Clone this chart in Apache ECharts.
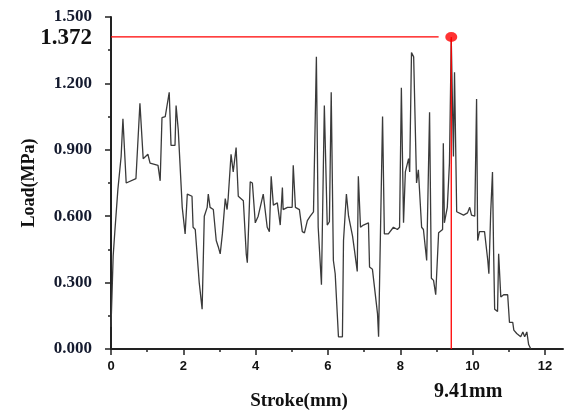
<!DOCTYPE html>
<html>
<head>
<meta charset="utf-8">
<script src="https://cdn.jsdelivr.net/npm/echarts@6/dist/echarts.min.js"></script>
<style>
    html, body { margin: 0; padding: 0; background: #fff; }
    #chart { width: 568px; height: 414px; }
</style>
</head>
<body>
<div id="chart"></div>
<script>
    // 行程 (mm)
    var strokeX = [0.00, 0.06, 0.11, 0.19, 0.28, 0.33, 0.42, 0.69, 0.80, 0.89, 1.02, 1.08, 1.30, 1.36, 1.41, 1.50,
        1.61, 1.66, 1.77, 1.80, 1.86, 1.97, 2.05, 2.11, 2.24, 2.27, 2.33, 2.44, 2.49, 2.52, 2.58, 2.66,
        2.69, 2.74, 2.83, 2.91, 2.97, 3.02, 3.08, 3.16, 3.21, 3.24, 3.32, 3.38, 3.46, 3.52, 3.66, 3.74,
        3.77, 3.85, 3.91, 3.99, 4.07, 4.21, 4.32, 4.38, 4.43, 4.49, 4.60, 4.68, 4.74, 4.76, 4.88, 5.01,
        5.04, 5.10, 5.21, 5.29, 5.35, 5.43, 5.51, 5.60, 5.68, 5.73, 5.82, 5.90, 5.98, 6.04, 6.09, 6.15,
        6.20, 6.29, 6.40, 6.43, 6.51, 6.57, 6.68, 6.73, 6.81, 6.84, 6.90, 6.98, 7.12, 7.15, 7.23, 7.37,
        7.40, 7.51, 7.56, 7.67, 7.81, 7.92, 7.98, 8.03, 8.09, 8.14, 8.23, 8.26, 8.31, 8.37, 8.45, 8.50,
        8.59, 8.64, 8.73, 8.81, 8.86, 8.92, 8.98, 9.06, 9.17, 9.19, 9.22, 9.30, 9.36, 9.41, 9.47, 9.50,
        9.56, 9.61, 9.75, 9.86, 9.92, 9.97, 10.06, 10.11, 10.14, 10.19, 10.33, 10.42, 10.45, 10.50, 10.55, 10.58,
        10.61, 10.69, 10.72, 10.78, 10.86, 10.97, 11.02, 11.11, 11.14, 11.22, 11.27, 11.33, 11.39, 11.44, 11.50, 11.55,
        11.61];
    // 载荷 (MPa)
    var loadY = [0.10, 0.42, 0.54, 0.72, 0.87, 1.04, 0.75, 0.77, 1.11, 0.86, 0.88, 0.84, 0.83, 0.76, 1.045, 1.05,
        1.16, 0.92, 0.92, 1.10, 0.99, 0.64, 0.52, 0.70, 0.69, 0.55, 0.54, 0.30, 0.30, 0.18, 0.60, 0.64,
        0.70, 0.64, 0.63, 0.49, 0.46, 0.43, 0.52, 0.68, 0.63, 0.68, 0.88, 0.80, 0.91, 0.69, 0.67, 0.43,
        0.39, 0.755, 0.75, 0.57, 0.60, 0.70, 0.55, 0.53, 0.78, 0.65, 0.66, 0.56, 0.73, 0.63, 0.64, 0.64,
        0.83, 0.64, 0.63, 0.53, 0.525, 0.58, 0.60, 0.62, 1.32, 0.55, 0.29, 1.10, 0.56, 0.575, 1.16, 0.40,
        0.34, 0.055, 0.055, 0.49, 0.70, 0.60, 0.51, 0.45, 0.35, 0.78, 0.55, 0.56, 0.57, 0.37, 0.36, 0.16,
        0.055, 1.05, 0.52, 0.52, 0.55, 0.54, 0.55, 1.18, 0.57, 0.80, 0.86, 0.80, 1.34, 1.32, 0.75, 0.81,
        0.55, 0.54, 0.40, 1.07, 0.32, 0.31, 0.245, 0.525, 0.54, 0.93, 0.57, 0.64, 0.84, 1.40, 0.87, 1.25,
        0.62, 0.615, 0.605, 0.615, 0.64, 0.605, 0.60, 1.13, 0.49, 0.53, 0.53, 0.40, 0.34, 0.615, 0.80, 0.45,
        0.18, 0.17, 0.43, 0.235, 0.245, 0.245, 0.12, 0.12, 0.085, 0.07, 0.077, 0.055, 0.077, 0.055, 0.077, 0.02,
        0.00];

    var xMajorTicks = [0, 2, 4, 6, 8, 10, 12];
    var xMinorTicks = [1, 3, 5, 7, 9, 11];

    // 峰值标注
    var peakStroke = 9.41;
    var peakLevel = 1.41;   /*图中红线所在高度*/
    var peakLabel = '1.372';
    var strokeLabel = '9.41mm';

    var serif = '"Liberation Serif", "DejaVu Serif", serif';
    var sans = '"Liberation Sans", Arial, sans-serif';

    var lineData = strokeX.map(function (x, i) { return [x, loadY[i]]; });

    var chart = echarts.init(document.getElementById('chart'), null, {renderer: 'canvas'});

    chart.setOption({
        animation: false,
        backgroundColor: '#fff',
        grid: {left: 111, right: 5, top: 17, bottom: 65},
        xAxis: [
            {
                type: 'value', min: 0, max: 12.5,
                axisLine: {lineStyle: {color: '#222', width: 2}},
                axisTick: {customValues: xMajorTicks, length: 6, lineStyle: {color: '#222', width: 1.5}},
                axisLabel: {customValues: xMajorTicks, margin: 11, color: '#111',
                    fontFamily: sans, fontWeight: 'bold', fontSize: 13},
                splitLine: {show: false}
            },
            {
                type: 'value', min: 0, max: 12.5, position: 'bottom',
                axisLine: {show: false},
                axisTick: {customValues: xMinorTicks, length: 3, lineStyle: {color: '#222', width: 1.5}},
                axisLabel: {show: false},
                splitLine: {show: false}
            }
        ],
        yAxis: {
            type: 'value', min: 0, max: 1.5, interval: 0.3,
            name: 'Load(MPa)', nameLocation: 'middle', nameGap: 73, nameRotate: 90,
            nameTextStyle: {fontFamily: serif, fontWeight: 'bold', fontSize: 18, color: '#111'},
            axisLine: {show: true, lineStyle: {color: '#222', width: 2}},
            axisTick: {show: true, length: 6, lineStyle: {color: '#222', width: 1.5}},
            minorTick: {show: true, splitNumber: 2, length: 3, lineStyle: {color: '#222', width: 1.5}},
            axisLabel: {margin: 19, color: '#141a2e', fontFamily: serif, fontWeight: 'bold', fontSize: 17,
                formatter: function (v) { return v.toFixed(3); }},
            splitLine: {show: false}
        },
        series: [
            {
                name: 'Load', type: 'line', data: lineData, showSymbol: false,
                lineStyle: {color: '#3a3a3a', width: 1.3}, z: 2
            },
            {
                name: 'peakH', type: 'line', showSymbol: false, silent: true,
                data: [[0, peakLevel], [peakStroke - 0.35, peakLevel]],
                lineStyle: {color: '#ff0000', width: 1.3}, z: 3
            },
            {
                name: 'peakV', type: 'line', showSymbol: false, silent: true,
                data: [[peakStroke, peakLevel], [peakStroke, 0]],
                lineStyle: {color: '#ff0000', width: 1.3}, z: 3
            },
            {
                name: 'peakDot', type: 'scatter', silent: true,
                data: [[peakStroke, peakLevel]],
                symbol: 'circle', symbolSize: [12, 10],
                itemStyle: {color: '#ff0000'}, z: 4
            }
        ]
    });

    /*标注文字*/
    var pPeak = chart.convertToPixel({gridIndex: 0}, [peakStroke, peakLevel]);
    var pOrigin = chart.convertToPixel({gridIndex: 0}, [0, 0]);
    var pMid = chart.convertToPixel({gridIndex: 0}, [5.2, 0]);
    chart.setOption({
        graphic: [
            {
                type: 'text', x: pOrigin[0] - 19, y: pPeak[1] + 1,
                style: {text: peakLabel, fill: '#111', font: 'bold 23px ' + serif,
                    textAlign: 'right', textVerticalAlign: 'middle'}
            },
            {
                type: 'text', x: pPeak[0] + 17, y: pOrigin[1] + 43,
                style: {text: strokeLabel, fill: '#111', font: 'bold 20px ' + serif,
                    textAlign: 'center', textVerticalAlign: 'middle'}
            },
            {
                type: 'text', x: pMid[0], y: pOrigin[1] + 52,
                style: {text: 'Stroke(mm)', fill: '#111', font: 'bold 19px ' + serif,
                    textAlign: 'center', textVerticalAlign: 'middle'}
            }
        ]
    });
</script>
</body>
</html>
